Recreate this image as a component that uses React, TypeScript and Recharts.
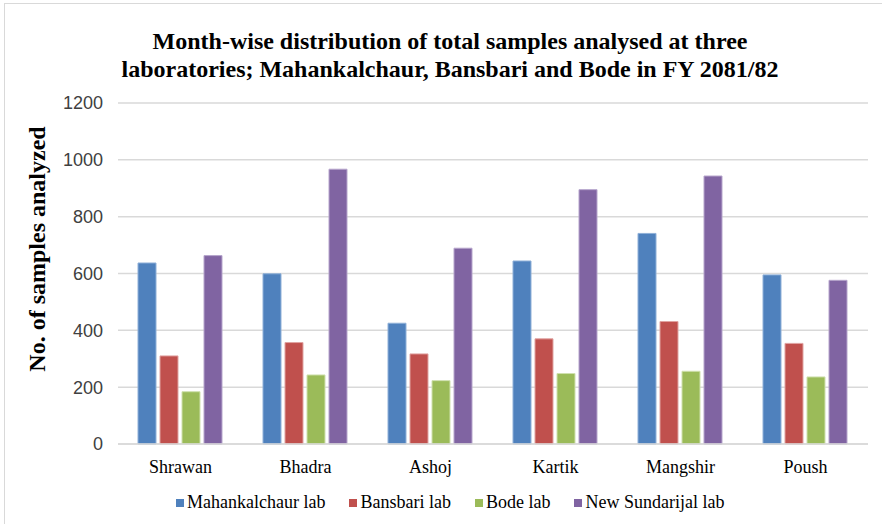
import React from "react";
import { Bar, BarChart, CartesianGrid, XAxis, YAxis } from "recharts";

const months = ["Shrawan", "Bhadra", "Ashoj", "Kartik", "Mangshir", "Poush"];
const mahankalchaur = [637, 599, 425, 644, 741, 595];
const bansbari = [310, 357, 317, 370, 431, 354];
const bode = [184, 243, 223, 248, 256, 236];
const sundarijal = [663, 967, 689, 895, 943, 576];
const yTicks = [0, 200, 400, 600, 800, 1000, 1200];

const series = [
  { key: "mahankalchaur", name: "Mahankalchaur lab", color: "#4F81BD", edge: "#8fb0d8" },
  { key: "bansbari", name: "Bansbari lab", color: "#C0504D", edge: "#e0a3a1" },
  { key: "bode", name: "Bode lab", color: "#9BBB59", edge: "#cfe0ae" },
  { key: "sundarijal", name: "New Sundarijal lab", color: "#8064A2", edge: "#b6a5cc" },
];

const data = months.map((m, i) => ({
  month: m,
  mahankalchaur: mahankalchaur[i],
  bansbari: bansbari[i],
  bode: bode[i],
  sundarijal: sundarijal[i],
}));

const serif = '"Liberation Serif", "Times New Roman", serif';
const sans = '"Liberation Sans", Arial, sans-serif';

// legend drawn in html so it doesn't shrink the plot area
function LegendBox() {
  return (
    <div
      style={{
        position: "absolute",
        left: 176,
        top: 491,
        height: 22,
        display: "flex",
        alignItems: "center",
        fontFamily: serif,
        fontSize: 18,
        color: "#000",
        gap: 24,
        whiteSpace: "nowrap",
      }}
    >
      {series.map((s) => (
        <span key={s.key} style={{ display: "flex", alignItems: "center" }}>
          <span
            style={{
              width: 8,
              height: 8,
              background: s.color,
              display: "inline-block",
              marginRight: 3,
              marginTop: 2,
            }}
          />
          {s.name}
        </span>
      ))}
    </div>
  );
}

export default function App() {
  return (
    <div
      style={{
        position: "absolute",
        left: 0,
        top: 0,
        width: 882,
        height: 524,
        background: "#fff",
        overflow: "hidden",
      }}
    >
      <div
        style={{
          position: "absolute",
          left: 4,
          top: 3,
          width: 900,
          height: 600,
          border: "1px solid #d9d9d9",
        }}
      />
      <div
        style={{
          position: "absolute",
          left: 0,
          top: 27,
          width: 900,
          textAlign: "center",
          fontFamily: serif,
          fontWeight: "bold",
          fontSize: 24,
          lineHeight: "28px",
          color: "#000",
        }}
      >
        Month-wise distribution of total samples analysed at three
        <br />
        laboratories; Mahankalchaur, Bansbari and Bode in FY 2081/82
      </div>
      <div
        style={{
          position: "absolute",
          left: 37,
          top: 249,
          transform: "translate(-50%, -50%) rotate(-90deg)",
          whiteSpace: "nowrap",
          fontFamily: serif,
          fontWeight: "bold",
          fontSize: 24,
          color: "#000",
        }}
      >
        No. of samples analyzed
      </div>
      <div style={{ position: "absolute", left: 0, top: 0 }}>
        <BarChart
          width={882}
          height={524}
          data={data}
          margin={{ top: 103, right: 14, left: 0, bottom: 50 }}
          barCategoryGap={20}
          barGap={4}
        >
          <CartesianGrid vertical={false} stroke="#d9d9d9" strokeWidth={1.5} />
          <XAxis
            dataKey="month"
            height={30}
            tickLine={false}
            axisLine={{ stroke: "#d9d9d9", strokeWidth: 1.5 }}
            tick={{ fill: "#000", fontFamily: serif, fontSize: 18 }}
            tickMargin={10}
            interval={0}
          />
          <YAxis
            width={118}
            domain={[0, 1200]}
            ticks={yTicks}
            tickLine={false}
            axisLine={false}
            tickMargin={9}
            tick={{ fill: "#404040", fontFamily: sans, fontSize: 18 }}
          />
          {series.map((s) => (
            <Bar
              key={s.key}
              dataKey={s.key}
              name={s.name}
              fill={s.color}
              stroke={s.edge}
              strokeWidth={1}
              isAnimationActive={false}
            />
          ))}
        </BarChart>
      </div>
      <LegendBox />
    </div>
  );
}
